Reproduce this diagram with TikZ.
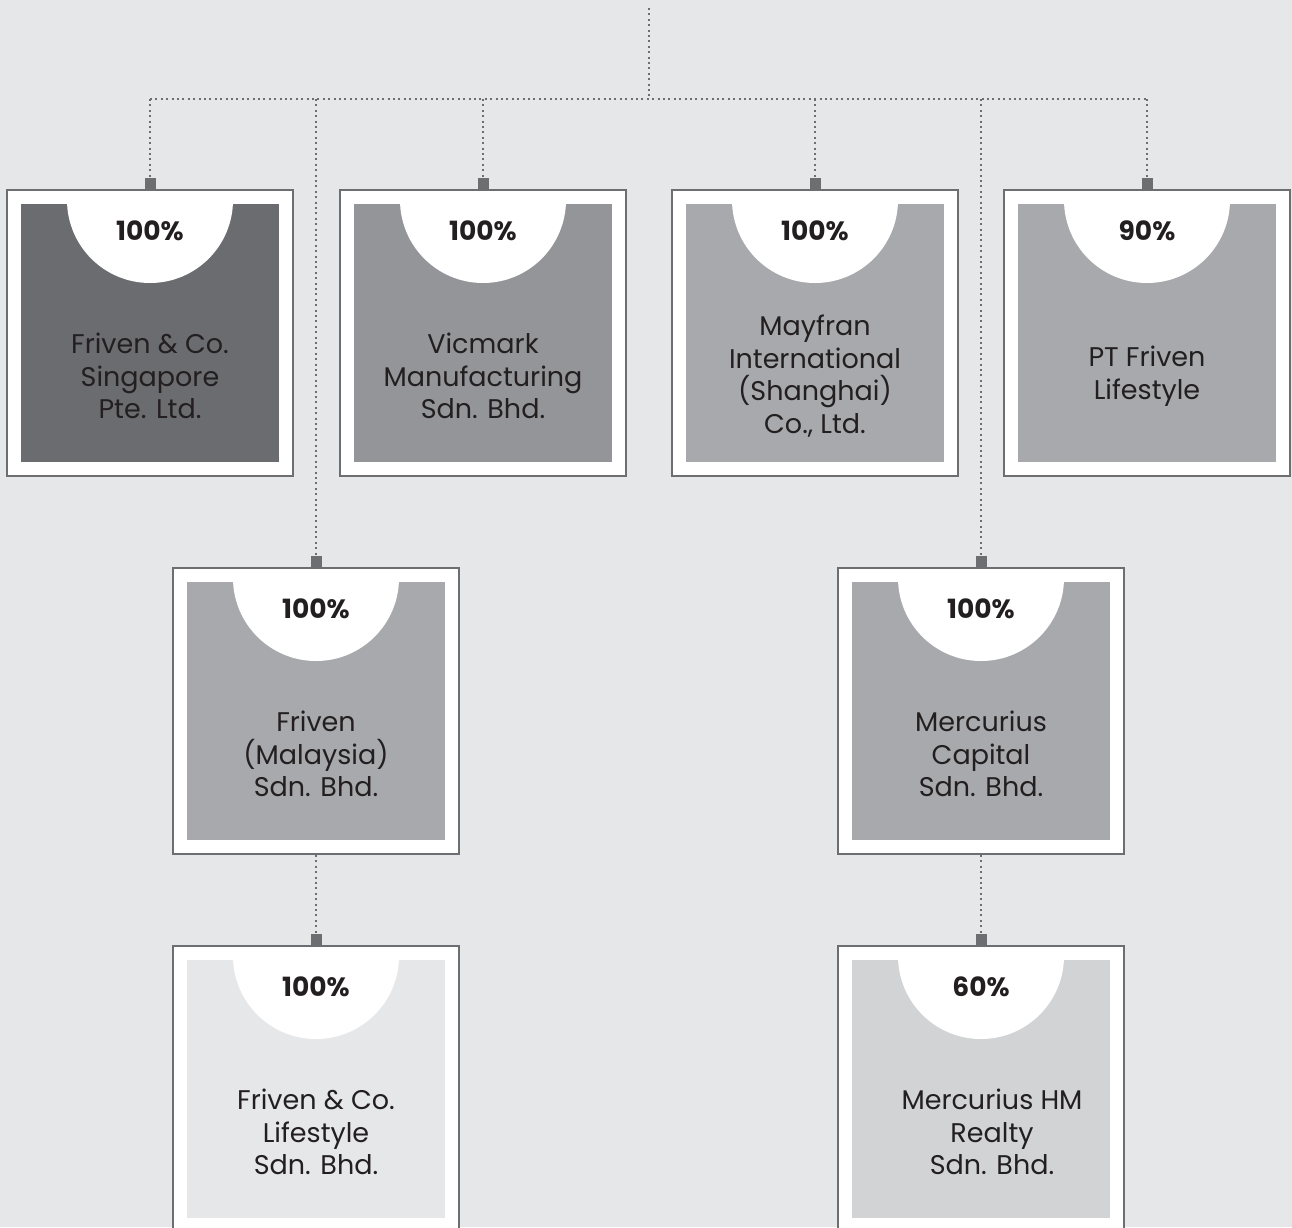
\documentclass[tikz,border=0pt]{standalone}
\usepackage{fontspec}
\setmainfont{Poppins}
\definecolor{bg}{HTML}{E6E7E8}
\definecolor{line}{HTML}{6D6E71}
\definecolor{ink}{HTML}{231F20}
\definecolor{fdark}{HTML}{6B6C70}
\definecolor{fmid}{HTML}{939598}
\definecolor{flight}{HTML}{A7A9AC}
\definecolor{fpale}{HTML}{D1D3D4}
\definecolor{fbg}{HTML}{E6E7E8}
\tikzset{
  frame/.style={draw=line, line width=2pt, fill=white, minimum width=286pt, minimum height=286pt, inner sep=0pt},
  tabbox/.style={fill=line, minimum width=11pt, minimum height=11pt, inner sep=0pt},
  pct/.style={font=\fontsize{26.5}{30}\selectfont\bfseries, text=ink},
  unitname/.style={font=\fontsize{27}{32.5}\selectfont, text=ink, align=center},
  conn/.style={draw=line, line width=2pt, dash pattern=on 2pt off 3.4pt}
}
\newcommand{\orgunit}[7]{%
  \node[frame] (#1) at (#2,#3) {};
  \node[tabbox, anchor=south] (#1t) at (#1.north) {};
  \begin{scope}
    \clip (#2-129,#3-129) rectangle (#2+129,#3+129);
    \fill[#4] (#2-129,#3-129) rectangle (#2+129,#3+129);
    \fill[white] (#2,#3-133) circle[radius=83];
  \end{scope}
  \node[pct] (#1p) at (#2,#3-102) {#5};
  \node[unitname] (#1n) at (#2+#7,#3+43) {#6};
}
\begin{document}
\begin{tikzpicture}[x=1pt,y=-1pt]
\useasboundingbox[fill=bg] (0,0) rectangle (1292,1227);
\orgunit{b1}{150}{333}{fdark}{100\%}{Friven \& Co.\\Singapore\\Pte. Ltd.}{0}
\orgunit{b2}{483}{333}{fmid}{100\%}{Vicmark\\Manufacturing\\Sdn. Bhd.}{0}
\orgunit{b3}{815}{333}{flight}{100\%}{Mayfran\\International\\(Shanghai)\\Co., Ltd.}{0}
\orgunit{b4}{1147}{333}{flight}{90\%}{PT Friven\\Lifestyle}{0}
\orgunit{b5}{316}{711}{flight}{100\%}{Friven\\(Malaysia)\\Sdn. Bhd.}{0}
\orgunit{b6}{981}{711}{flight}{100\%}{Mercurius\\Capital\\Sdn. Bhd.}{0}
\orgunit{b7}{316}{1089}{fbg}{100\%}{Friven \& Co.\\Lifestyle\\Sdn. Bhd.}{0}
\orgunit{b8}{981}{1089}{fpale}{60\%}{Mercurius HM\\Realty\\Sdn. Bhd.}{11}
\coordinate (root) at (649,8);
\coordinate (bus) at (649,99);
\draw[conn] (root) -- (bus);
\draw[conn] (b1t.north |- bus) -- (b4t.north |- bus);
\draw[conn] (b1t.north |- bus) -- (b1t.north);
\draw[conn] (b2t.north |- bus) -- (b2t.north);
\draw[conn] (b3t.north |- bus) -- (b3t.north);
\draw[conn] (b4t.north |- bus) -- (b4t.north);
\draw[conn] (b5t.north |- bus) -- (b5t.north);
\draw[conn] (b6t.north |- bus) -- (b6t.north);
\draw[conn] (b5.south) -- (b7t.north);
\draw[conn] (b6.south) -- (b8t.north);
\end{tikzpicture}
\end{document}
